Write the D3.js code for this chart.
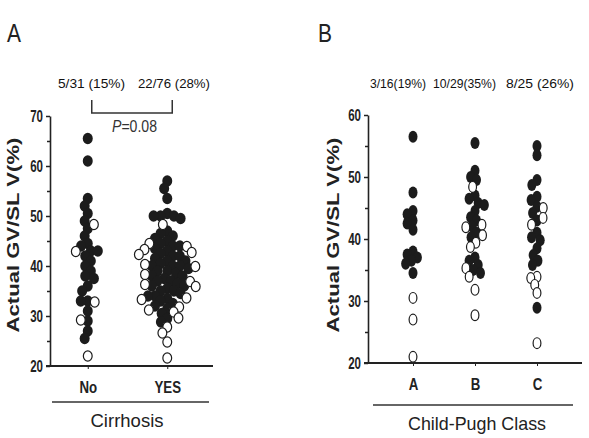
<!DOCTYPE html>
<html>
<head>
<meta charset="utf-8">
<script src="https://cdn.jsdelivr.net/npm/d3@7"></script>
<style>
  body { margin: 0; background: #fff; }
  text { font-family: "Liberation Sans", Arial, sans-serif; fill: #222; }
</style>
</head>
<body>
<div id="chart"></div>
<script>
// panel A: cirrhosis
const cirrhosisGroups = ["No", "YES"];
const noFilled = [65.5, 61, 53.5, 52, 50.5, 49, 47.5, 46, 44.5, 44, 43, 43, 42, 41, 40, 39,
  38, 37.5, 36, 35, 33, 33, 31, 29, 27, 25.5];
const noOpen = [48.3, 42.9, 32.8, 29.2, 22];
const yesFilled = [57, 55.5, 53.5, 50.5, 50, 50, 50, 49.5, 47, 46.5, 46, 45.5, 45, 44.5, 44, 43.5,
  43, 42.5, 42, 42, 41.5, 41, 41, 40.5, 40, 40, 39.5, 39, 39, 38.5, 38, 38, 37.5, 37, 37, 36.5,
  36, 36, 35.5, 35, 35, 34.5, 34, 34, 33.5, 33, 32.5, 32, 31.5, 30.5, 29.5, 28.8, 44, 40];
const yesOpen = [48.3, 44.5, 43.9, 43.3, 42.7, 42.3, 40.3, 39.9, 38.3, 36.9, 36.3, 35.9,
  33.6, 33.3, 31.8, 31.2, 30.8, 29.6, 27.8, 26.6, 24.8, 21.6];
const cirrhosisCounts = ["5/31 (15%)", "22/76 (28%)"];

// panel B: Child-Pugh
const classGroups = ["A", "B", "C"];
const aFilled = [56.5, 47.5, 44.5, 44, 43, 42.5, 41.5, 38, 37.5, 37, 36.5, 36, 34.5];
const aOpen = [30.5, 27, 21];
const bFilled = [55.5, 51, 50, 49.5, 47, 46.5, 45.8, 45.5, 44.5, 43.5, 43, 42, 41, 40.3, 37,
  36.5, 35.8, 35, 34.5];
const bOpen = [48.4, 42.3, 41.9, 40.6, 39.4, 38.7, 35.3, 33.9, 31.8, 27.7];
const cFilled = [55, 53.5, 49.5, 48.7, 46.8, 46.3, 45.2, 44.2, 43, 41, 39.8, 40.3, 38.5, 37.4,
  35.8, 36.5, 28.9];
const cOpen = [45, 43.4, 42.3, 33.9, 33.7, 32.6, 31.3, 23.2];
const classCounts = ["3/16(19%)", "10/29(35%)", "8/25 (26%)"];

const svg = d3.select("#chart").append("svg")
  .attr("width", 589)
  .attr("height", 438);

// squeeze text horizontally, the scan uses a condensed face
function condense(sel, k) {
  sel.each(function () {
    const w = this.getComputedTextLength();
    d3.select(this).attr("textLength", w * k).attr("lengthAdjust", "spacingAndGlyphs");
  });
}

// greedy beeswarm: keeps value on y, pushes dots sideways just enough
function swarm(points, y, rx, ry) {
  const placed = [];
  const sorted = points.slice().sort((a, b) => b.filled - a.filled || d3.descending(a.v, b.v));
  sorted.forEach(p => {
    p.py = y(p.v);
    const cands = [0];
    placed.forEach(q => {
      const dy = (p.py - q.py) / (2 * ry);
      if (Math.abs(dy) < 1) {
        const dx = Math.sqrt(1 - dy * dy) * 2 * rx;
        cands.push(q.dx + dx, q.dx - dx);
      }
    });
    cands.sort((a, b) => Math.abs(a) - Math.abs(b) || a - b);
    for (const c of cands) {
      const ok = placed.every(q => {
        const ex = (c - q.dx) / (2 * rx), ey = (p.py - q.py) / (2 * ry);
        return ex * ex + ey * ey >= 0.999;
      });
      if (ok) { p.dx = c; break; }
    }
    placed.push(p);
  });
  return placed;
}

function panel({ letter, lx, groups, filled, open, counts, countX, countW, yDomain, yRange, yTicks,
                 xRange, axisX, axisEnd, underline, title, titleX, titleW, yTitleX, r }) {
  const g = svg.append("g");
  const y = d3.scaleLinear().domain(yDomain).range(yRange);
  const x = d3.scalePoint().domain(groups).range(xRange).padding(0.5);

  g.append("text").attr("x", lx).attr("y", 42).style("font-size", "25px")
    .attr("textLength", 14).attr("lengthAdjust", "spacingAndGlyphs").text(letter);

  counts.forEach((c, i) => {
    g.append("text").attr("x", countX[i]).attr("y", 88)
      .attr("textLength", countW[i]).attr("lengthAdjust", "spacingAndGlyphs")
      .style("font-size", "13px").style("fill", "#111").text(c);
  });

  // y axis: labelled ticks every 10, minor every 5
  g.append("g")
    .attr("transform", `translate(${axisX},0)`)
    .call(d3.axisLeft(y).tickValues(d3.range(yDomain[0] + 5, yDomain[1], 10)).tickSize(3).tickFormat(""))
    .call(a => a.select(".domain").remove());
  const ya = g.append("g")
    .attr("transform", `translate(${axisX},0)`)
    .call(d3.axisLeft(y).tickValues(yTicks).tickSize(4).tickSizeOuter(0).tickPadding(3));
  ya.selectAll("line, path").attr("stroke", "#222").attr("stroke-width", 1.6);
  ya.selectAll("text").style("font-size", "16px").style("font-weight", "bold")
    .style("font-family", "'Liberation Sans', sans-serif").attr("fill", "#222")
    .call(condense, 0.72);
  g.selectAll(".tick line").attr("stroke", "#222").attr("stroke-width", 1.5);

  // x axis
  const xa = g.append("g")
    .attr("transform", `translate(0,${yRange[0]})`)
    .call(d3.axisBottom(x).tickSize(3).tickPadding(12));
  xa.select(".domain").attr("d", `M${axisX - 4},0H${axisEnd}`).attr("stroke", "#222").attr("stroke-width", 2);
  xa.selectAll("line").attr("stroke", "#222");
  xa.selectAll("text").style("font-size", "17px").style("font-weight", "bold")
    .style("font-family", "'Liberation Sans', sans-serif").attr("fill", "#222")
    .call(condense, 0.78);

  g.append("line")
    .attr("x1", underline[0]).attr("x2", underline[1])
    .attr("y1", underline[2]).attr("y2", underline[2])
    .attr("stroke", "#333").attr("stroke-width", 1.5);
  g.append("text").attr("x", titleX).attr("y", underline[2] + 25)
    .attr("text-anchor", "middle").style("font-size", "19px")
    .attr("textLength", titleW).attr("lengthAdjust", "spacingAndGlyphs").text(title);

  g.append("text")
    .attr("transform", `translate(${yTitleX},235) rotate(-90)`)
    .attr("text-anchor", "middle")
    .attr("textLength", 195).attr("lengthAdjust", "spacingAndGlyphs")
    .style("font-family", "'Liberation Sans', Arial, sans-serif")
    .style("font-size", "17px").style("font-weight", "bold")
    .text("Actual GV/SL V(%)");

  // dots
  groups.forEach((grp, i) => {
    const pts = filled[i].map(v => ({ v, filled: 1 }))
      .concat(open[i].map(v => ({ v, filled: 0 })));
    const laid = swarm(pts, y, r[0] * 0.7, r[1] * 0.72);
    g.append("g").selectAll("ellipse")
      .data(laid.sort((a, b) => b.filled - a.filled))
      .join("ellipse")
      .attr("cx", d => x(grp) + d.dx)
      .attr("cy", d => d.py)
      .attr("rx", d => d.filled ? r[0] : r[0] - 0.6)
      .attr("ry", d => d.filled ? r[1] : r[1] - 0.6)
      .attr("fill", d => d.filled ? "#1c1c1c" : "#fff")
      .attr("stroke", "#1c1c1c")
      .attr("stroke-width", d => d.filled ? 0 : 1.2);
  });
  return { g, x, y };
}

const pa = panel({
  letter: "A", lx: 7,
  groups: cirrhosisGroups,
  filled: [noFilled, yesFilled],
  open: [noOpen, yesOpen],
  counts: cirrhosisCounts, countX: [58, 138], countW: [67, 72],
  yDomain: [20, 70], yRange: [366, 116], yTicks: [20, 30, 40, 50, 60, 70],
  xRange: [48, 207], axisX: 50, axisEnd: 213,
  underline: [52, 209, 402], title: "Cirrhosis", titleX: 127, titleW: 73, yTitleX: 19,
  r: [5, 5.8]
});

// significance bracket between the two cirrhosis groups
const bracketY = 113;
pa.g.append("path")
  .attr("d", `M${pa.x("No") + 4},${bracketY - 13}V${bracketY}H${pa.x("YES") + 5}V${bracketY - 13}`)
  .attr("fill", "none").attr("stroke", "#333").attr("stroke-width", 1.5);
pa.g.append("text").attr("x", 112).attr("y", 132)
  .attr("textLength", 45).attr("lengthAdjust", "spacingAndGlyphs")
  .style("font-size", "16px").style("fill", "#333")
  .html('<tspan font-style="italic">P</tspan>=0.08');

panel({
  letter: "B", lx: 318,
  groups: classGroups,
  filled: [aFilled, bFilled, cFilled],
  open: [aOpen, bOpen, cOpen],
  counts: classCounts, countX: [370, 433, 506], countW: [56, 63, 68],
  yDomain: [20, 60], yRange: [363, 115], yTicks: [20, 30, 40, 50, 60],
  xRange: [382, 568], axisX: 368, axisEnd: 582,
  underline: [373, 573, 405], title: "Child-Pugh Class", titleX: 477, titleW: 138, yTitleX: 339,
  r: [4.5, 6]
});
</script>
</body>
</html>
